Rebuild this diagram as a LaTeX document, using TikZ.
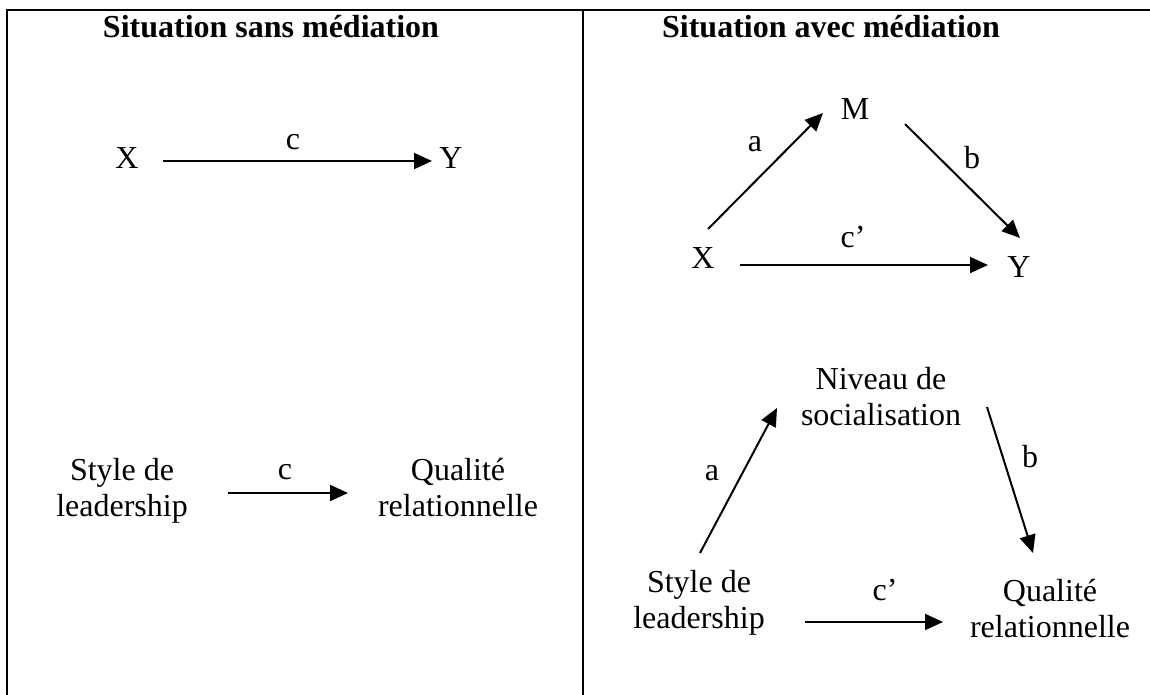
\documentclass[tikz,border=0pt]{standalone}
\usepackage{fontspec}
\setmainfont{Liberation Serif}
\usetikzlibrary{arrows.meta}
\begin{document}
\begin{tikzpicture}[x=1pt,y=-1pt,
  every node/.style={inner sep=0pt,outer sep=0pt,font=\fontsize{32}{36}\selectfont},
  txt/.style={anchor=base},
  ttl/.style={anchor=base,font=\fontsize{32}{36}\selectfont\bfseries},
  twoline/.style={anchor=base,align=center},
  rule/.style={line width=2pt},
  arr/.style={line width=2pt,-{Triangle[length=18pt,width=16pt]}}]
\useasboundingbox (0,0) rectangle (1150,695);
% frame
\draw[rule] (1150,10) -- (7,10) -- (7,695);
\draw[rule] (583,10) -- (583,695);
% titles
\node[ttl] (t1) at (271,38) {Situation sans médiation};
\node[ttl] (t2) at (831,38) {Situation avec médiation};
% left top
\node[txt] (lx) at (127,169) {X};
\node[txt] (ly) at (451,169) {Y};
\coordinate (lxs) at (163,161);
\coordinate (lye) at (432,161);
\draw[arr] (lxs) -- (lye);
\node[txt] (lc) at (293,150) {c};
% left bottom (anchor = baseline of last line)
\node[twoline] (lsl) at (122,516) {Style de\\leadership};
\node[twoline] (lqr) at (458,516) {Qualité\\relationnelle};
\coordinate (lss) at (228,493);
\coordinate (lqe) at (348,493);
\draw[arr] (lss) -- (lqe);
\node[txt] (lc2) at (285,479) {c};
% right top
\node[txt] (rm) at (855,120) {M};
\node[txt] (rx) at (703,268) {X};
\node[txt] (ry) at (1019,277) {Y};
\coordinate (rxa) at (708,229);
\coordinate (rma) at (823,113);
\coordinate (rmb) at (905,124);
\coordinate (ryb) at (1020,238);
\coordinate (rxc) at (740,265);
\coordinate (ryc) at (988,265);
\draw[arr] (rxa) -- (rma);
\draw[arr] (rmb) -- (ryb);
\draw[arr] (rxc) -- (ryc);
\node[txt] (ra) at (755,152) {a};
\node[txt] (rb) at (972,169) {b};
\node[txt] (rc) at (853,247) {c’};
% right bottom
\node[twoline] (rns) at (881,425) {Niveau de\\socialisation};
\node[twoline] (rsl) at (699,628) {Style de\\leadership};
\node[twoline] (rqr) at (1050,637) {Qualité\\relationnelle};
\coordinate (rsa) at (700,553);
\coordinate (rna) at (777,408);
\coordinate (rnb) at (987,407);
\coordinate (rqb) at (1033,553);
\coordinate (rsc) at (805,622);
\coordinate (rqc) at (943,622);
\draw[arr] (rsa) -- (rna);
\draw[arr] (rnb) -- (rqb);
\draw[arr] (rsc) -- (rqc);
\node[txt] (ra2) at (712,480) {a};
\node[txt] (rb2) at (1030,467) {b};
\node[txt] (rc2) at (885,600) {c’};
\end{tikzpicture}
\end{document}
